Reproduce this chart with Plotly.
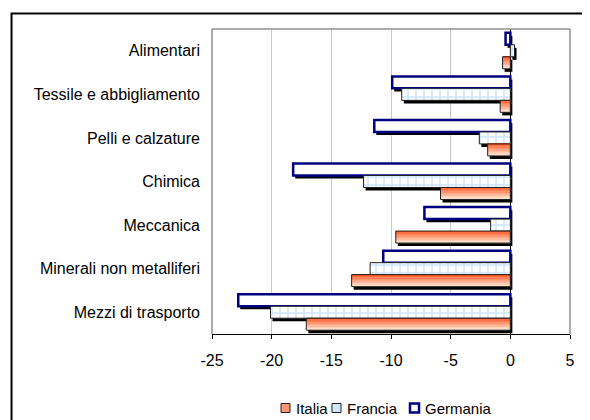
import plotly.graph_objects as go

categories = ["Alimentari", "Tessile e abbigliamento", "Pelli e calzature", "Chimica",
              "Meccanica", "Minerali non metalliferi", "Mezzi di trasporto"]
italia = [-0.65, -0.85, -1.9, -5.85, -9.6, -13.3, -17.1]
francia = [0.35, -9.1, -2.6, -12.3, -1.65, -11.75, -20.1]
germania = [-0.4, -9.9, -11.4, -18.2, -7.2, -10.65, -22.8]
series_names = ["Italia", "Francia", "Germania"]
x_ticks = [-25, -20, -15, -10, -5, 0, 5]

pos = list(range(len(categories)))
W = 0.275
offs = {"Germania": -1.5 * W, "Francia": -0.5 * W, "Italia": 0.5 * W}
vals = {"Italia": italia, "Francia": francia, "Germania": germania}
SH_X = 0.17
SH_Y = 0.07

FONT = "Liberation Sans, Arial, sans-serif"
FS = 16
fig = go.Figure()

# shadows
for name in ["Germania", "Francia", "Italia"]:
    fig.add_trace(go.Bar(y=pos, x=vals[name], base=SH_X, orientation="h",
                         offset=offs[name] + SH_Y, width=W,
                         marker=dict(color="black", line=dict(width=0)),
                         showlegend=False, hoverinfo="skip"))

# Germania
fig.add_trace(go.Bar(y=pos, x=germania, orientation="h", offset=offs["Germania"], width=W,
                     marker=dict(color="white", line=dict(color="#000080", width=2.5)),
                     showlegend=False, name="Germania"))
# Francia
fig.add_trace(go.Bar(y=pos, x=francia, orientation="h", offset=offs["Francia"], width=W,
                     marker=dict(color="white", line=dict(color="#202020", width=1),
                                 pattern=dict(shape="+", fgcolor="#99CCFF", bgcolor="white",
                                              size=8, solidity=0.35)),
                     showlegend=False, name="Francia"))
# Italia gradient stripes
N = 8
c0 = (255, 90, 40)
c1 = (255, 225, 205)
for k in range(N):
    t = k / (N - 1)
    col = "rgb(%d,%d,%d)" % tuple(round(a + (b - a) * t) for a, b in zip(c0, c1))
    fig.add_trace(go.Bar(y=pos, x=italia, orientation="h",
                         offset=offs["Italia"] + k * W / N, width=W / N + 0.004,
                         marker=dict(color=col, line=dict(width=0)),
                         showlegend=False, hoverinfo="skip"))
fig.add_trace(go.Bar(y=pos, x=italia, orientation="h", offset=offs["Italia"], width=W,
                     marker=dict(color="rgba(0,0,0,0)", line=dict(color="#202020", width=1)),
                     showlegend=False, name="Italia"))

# plot geometry (pixels, relative to the page) for the manual legend
PL, PR, PT, PB = 212, 570, 29, 334


def px_x(p):
    return (p - PL) / (PR - PL)


def px_y(p):
    return (PB - p) / (PB - PT)


legend_styles = {
    "Italia": dict(fill="#FF9474", line="#202020", lw=1),
    "Francia": dict(fill="#CFE6FF", line="#202020", lw=1),
    "Germania": dict(fill="white", line="#000080", lw=2.5),
}
legend_x = [281, 332, 410]
shapes = [
    dict(type="rect", xref="paper", yref="paper", x0=-0.56, x1=1.3, y0=-0.4, y1=1.051,
         line=dict(color="black", width=2), fillcolor="rgba(0,0,0,0)", layer="below"),
    dict(type="line", xref="paper", yref="paper", x0=0, x1=0, y0=0, y1=1,
         line=dict(color="#909090", width=1.5)),
    dict(type="line", xref="paper", yref="paper", x0=0, x1=1, y0=1, y1=1,
         line=dict(color="#909090", width=1.5)),
    dict(type="line", xref="paper", yref="paper", x0=1, x1=1, y0=0, y1=1,
         line=dict(color="#909090", width=1.5)),
]
annotations = []
for name, lx in zip(series_names, legend_x):
    st = legend_styles[name]
    shapes.append(dict(type="rect", xref="paper", yref="paper",
                       x0=px_x(lx), x1=px_x(lx + 9), y0=px_y(412.5), y1=px_y(403.5),
                       fillcolor=st["fill"], line=dict(color=st["line"], width=st["lw"])))
    annotations.append(dict(xref="paper", yref="paper", x=px_x(lx + 14), y=px_y(408),
                            text=name, showarrow=False, xanchor="left", yanchor="middle",
                            borderpad=0,
                            font=dict(size=15, color="black", family=FONT)))

# page body has an 8px margin: size the figure so the plot lands where the reference has it
OFF = 8
fig.update_layout(
    width=590 - OFF, height=420 - OFF,
    margin=dict(l=PL - OFF, r=590 - PR, t=PT - OFF, b=420 - PB),
    barmode="overlay",
    paper_bgcolor="white", plot_bgcolor="white",
    font=dict(family=FONT, size=FS, color="black"),
    showlegend=False,
    xaxis=dict(range=[-25, 5], tickvals=x_ticks, ticktext=[str(v) for v in x_ticks],
               showgrid=True, gridcolor="#c8c8c8", gridwidth=1,
               zeroline=True, zerolinecolor="black", zerolinewidth=1,
               ticks="outside", ticklen=4, tickcolor="black",
               showline=True, linecolor="black", linewidth=1,
               ticklabelstandoff=8, fixedrange=True),
    yaxis=dict(range=[6.5, -0.5], tickvals=pos, ticktext=categories,
               showgrid=False, zeroline=False, showline=False, ticks="",
               ticklabelstandoff=11, fixedrange=True),
    shapes=shapes,
    annotations=annotations,
)

fig.write_html("out.html")
